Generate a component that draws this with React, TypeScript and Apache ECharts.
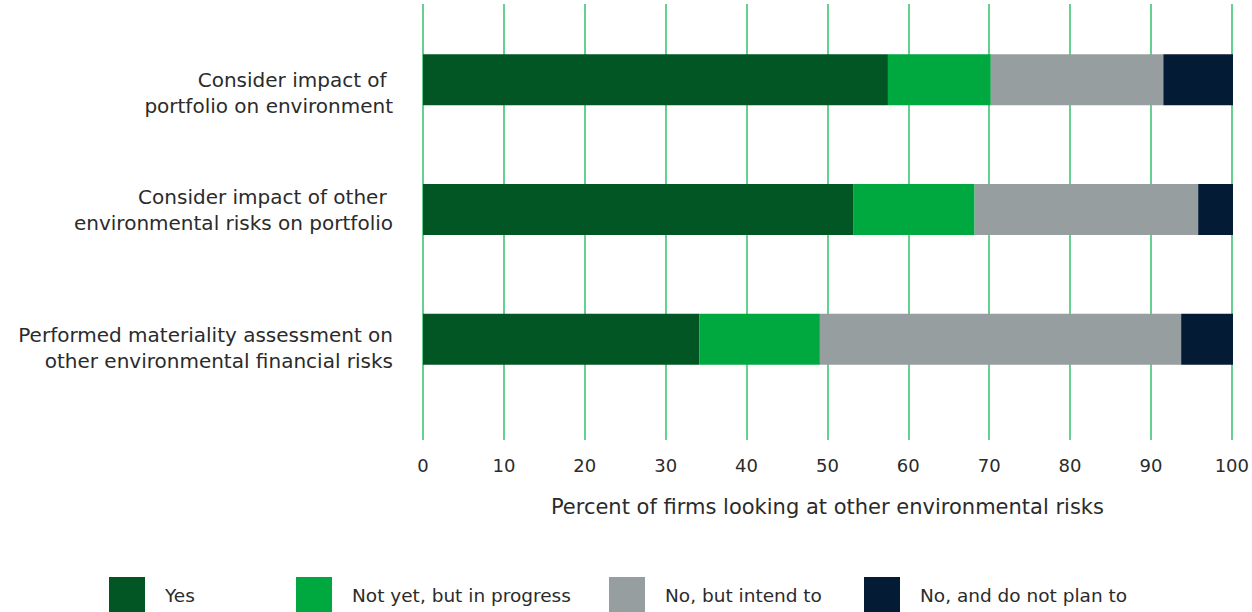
import React, { useEffect, useRef } from "react";
import * as echarts from "echarts";

const categories = [
  "Consider impact of \nportfolio on environment",
  "Consider impact of other \nenvironmental risks on portfolio",
  "Performed materiality assessment on\nother environmental financial risks",
];
const seriesNames = ["Yes", "Not yet, but in progress", "No, but intend to", "No, and do not plan to"];
const yesValues = [57.4, 53.1, 34.1];
const inProgressValues = [12.7, 15.0, 14.9];
const intendValues = [21.3, 27.6, 44.6];
const noPlanValues = [8.6, 4.3, 6.4];
const colors = ["#025624", "#00a93f", "#979e9f", "#041b35"];
const xTicks = [0, 10, 20, 30, 40, 50, 60, 70, 80, 90, 100];
const axisTitle = "Percent of firms looking at other environmental risks";

const FONT = "'DejaVu Sans', sans-serif";
const TEXT = "#2b2b2b";
// spacer heights (px) above each category label, which push it down by half
const labelSpacers = [26, 0, 18];

export default function App() {
  const ref = useRef<HTMLDivElement>(null);
  useEffect(() => {
    if (!ref.current) return;
    const chart = echarts.init(ref.current, null, { renderer: "svg" });
    const values = [yesValues, inProgressValues, intendValues, noPlanValues];
    const legendLefts = [109, 296, 609, 864];
    const rich: Record<string, any> = {};
    labelSpacers.forEach((h, i) => {
      rich["sp" + i] = { lineHeight: h, fontSize: 1, height: h };
    });
    chart.setOption({
      animation: false,
      textStyle: { fontFamily: FONT },
      grid: [
        { left: 423, right: 19, top: 4, bottom: 172, containLabel: false },
        { left: 423, right: 19, top: 15, bottom: 208, containLabel: false },
      ],
      xAxis: [
        {
          gridIndex: 0,
          type: "value",
          min: xTicks[0],
          max: xTicks[xTicks.length - 1],
          interval: 10,
          axisLine: { show: false },
          axisTick: { show: false },
          splitLine: { show: true, lineStyle: { color: "#33c06a", width: 1.5 } },
          axisLabel: { color: TEXT, fontSize: 18, margin: 16, fontFamily: FONT },
          name: axisTitle,
          nameLocation: "middle",
          nameGap: 56,
          nameTextStyle: { color: TEXT, fontSize: 21, fontFamily: FONT },
        },
        {
          gridIndex: 1,
          type: "value",
          min: 0,
          max: 100,
          show: false,
        },
      ],
      yAxis: [
        { gridIndex: 0, type: "value", show: false },
        {
          gridIndex: 1,
          type: "category",
          data: categories,
          inverse: true,
          axisLine: { show: false },
          axisTick: { show: false },
          axisLabel: {
            color: TEXT,
            fontSize: 20,
            lineHeight: 26,
            margin: 30,
            align: "right",
            fontFamily: FONT,
            rich,
            formatter: (value: string, index: number) =>
              labelSpacers[index] ? `{sp${index}| }\n${value}` : value,
          },
        },
      ],
      legend: seriesNames.map((name, i) => ({
        data: [name],
        left: legendLefts[i],
        top: 577,
        itemWidth: 36,
        itemHeight: 36,
        icon: "rect",
        padding: 0,
        textStyle: { color: TEXT, fontSize: 18.5, fontFamily: FONT, padding: [0, 0, 5, 15] },
        selectedMode: false,
      })),
      series: seriesNames.map((name, i) => ({
        name,
        type: "bar",
        stack: "total",
        xAxisIndex: 1,
        yAxisIndex: 1,
        barWidth: 51,
        data: values[i],
        itemStyle: { color: colors[i] },
      })),
    });
    return () => chart.dispose();
  }, []);
  return (
    <div
      ref={ref}
      style={{ position: "fixed", left: 0, top: 0, width: 1252, height: 612, background: "#fff" }}
    />
  );
}
